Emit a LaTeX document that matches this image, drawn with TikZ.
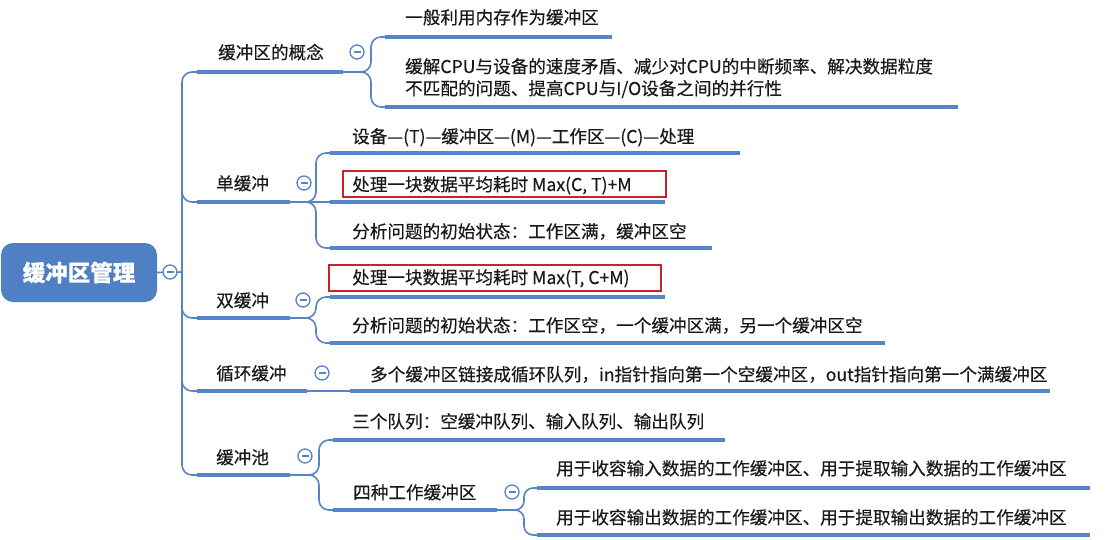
\documentclass[tikz,border=0pt]{standalone}
\usepackage{fontspec}
\setmainfont{Noto Sans CJK SC}[FakeBold=0.35]
\newfontfamily\rootfont{Noto Sans CJK SC}[FakeBold=0.5]
\usetikzlibrary{calc}
\definecolor{mblue}{RGB}{86,132,198}
\definecolor{topblue}{RGB}{87,133,199}
\definecolor{rootblue}{RGB}{80,128,196}
\definecolor{redc}{RGB}{196,36,42}
\definecolor{txtc}{RGB}{25,25,25}
\tikzset{
  ul/.style={draw=mblue, line width=4pt},
  topul/.style={draw=topblue, line width=4pt},
  conn/.style={draw=mblue, line width=1.6pt},
  txt/.style={anchor=base west, inner sep=0pt, font=\fontsize{17.6}{22}\selectfont, text=txtc, align=left},
  fold/.style={circle, draw=mblue, line width=1.3pt, fill=white, minimum size=14pt, inner sep=0pt,
    path picture={\draw[mblue, line width=1.3pt] ([xshift=-3.5pt]path picture bounding box.center) -- ([xshift=3.5pt]path picture bounding box.center);}},
  redbox/.style={draw=redc, line width=2pt, inner sep=0pt, minimum height=26pt},
  rootbox/.style={rounded corners=12pt, fill=rootblue, minimum width=156pt, minimum height=59pt, inner sep=0pt,
    text=white, font=\rootfont\fontsize{22.5}{26}\selectfont\bfseries}
}
\begin{document}
\begin{tikzpicture}[x=1pt, y=-1pt]
\useasboundingbox (0,0) rectangle (1107,540);
% top text first
\node[txt] (n11) at (405,24) {一般利用内存作为缓冲区};
% red boxes
\node[redbox, minimum width=323pt] (rb1) at (504.5,184) {};
\node[redbox, minimum width=332pt] (rb2) at (495,278) {};
% root
\node[rootbox] (root) at (79,272.5) {缓冲区管理};
\coordinate (tr) at (182,272);
% level-1 underline coordinates
\coordinate (a1) at (197,72);  \coordinate (b1) at (343,72);
\coordinate (a2) at (197,202); \coordinate (b2) at (290,202);
\coordinate (a3) at (197,318); \coordinate (b3) at (290,318);
\coordinate (a4) at (197,391); \coordinate (b4) at (307,391);
\coordinate (a5) at (197,475); \coordinate (b5) at (290,475);
\coordinate (t2) at (182,180); \coordinate (t3) at (182,296); \coordinate (t4) at (182,369);
% level-2 underline coordinates
\coordinate (c11) at (385,37);  \coordinate (d11) at (612,37);
\coordinate (c12) at (385,107); \coordinate (d12) at (958,107);
\coordinate (c21) at (330,153); \coordinate (d21) at (740,153);
\coordinate (c22) at (330,202); \coordinate (d22) at (665,202);
\coordinate (c23) at (330,248); \coordinate (d23) at (712,248);
\coordinate (c31) at (330,297); \coordinate (d31) at (665,297);
\coordinate (c32) at (330,343); \coordinate (d32) at (885,343);
\coordinate (c41) at (350,391); \coordinate (d41) at (1050,391);
\coordinate (c51) at (333,440); \coordinate (d51) at (725,440);
\coordinate (c52) at (333,510); \coordinate (d52) at (497,510);
\coordinate (e1) at (537,488); \coordinate (g1) at (1090,488);
\coordinate (e2) at (537,535); \coordinate (g2) at (1090,535);
% connectors
\draw[conn] (root.east) -- (tr);
\draw[conn, rounded corners=10pt] (a1) -| (tr) |- (a5);
\draw[conn, rounded corners=10pt] (t2) |- (a2);
\draw[conn, rounded corners=10pt] (t3) |- (a3);
\draw[conn, rounded corners=10pt] (t4) |- (a4);
\draw[conn, rounded corners=10pt] (b1) -| ([xshift=-14pt]c11) -- (d11);
\draw[conn, rounded corners=10pt] (b1) -| ([xshift=-14pt]c12) -- (c12);
\draw[conn, rounded corners=10pt] (b2) -| ([xshift=-14pt]c21) -- (c21);
\draw[conn] (b2) -- (c22);
\draw[conn, rounded corners=10pt] (b2) -| ([xshift=-14pt]c23) -- (c23);
\draw[conn, rounded corners=10pt] (b3) -| ([xshift=-14pt]c31) -- (c31);
\draw[conn, rounded corners=10pt] (b3) -| ([xshift=-14pt]c32) -- (c32);
\draw[conn] (b4) -- (c41);
\draw[conn, rounded corners=10pt] (b5) -| ([xshift=-14pt]c51) -- (c51);
\draw[conn, rounded corners=10pt] (b5) -| ([xshift=-14pt]c52) -- (c52);
\draw[conn, rounded corners=9pt] (d52) -| ([xshift=-13pt]e1) -- (e1);
\draw[conn, rounded corners=9pt] (d52) -| ([xshift=-13pt]e2) -- (e2);
% underlines
\path[topul] (c11) -- (d11);
\draw[ul] (a1) -- (b1);
\draw[ul] (a2) -- (b2);
\draw[ul] (a3) -- (b3);
\draw[ul] (a4) -- (b4);
\draw[ul] (a5) -- (b5);
\draw[ul] (c12) -- (d12);
\draw[ul] (c21) -- (d21);
\draw[ul] (c22) -- (d22);
\draw[ul] (c23) -- (d23);
\draw[ul] (c31) -- (d31);
\draw[ul] (c32) -- (d32);
\draw[ul] (c41) -- (d41);
\draw[ul] (c51) -- (d51);
\draw[ul] (c52) -- (d52);
\draw[ul] (e1) -- (g1);
\draw[ul] (e2) -- (g2);
% fold circles
\node[fold] (f0) at (170,272) {};
\node[fold] (f1) at (357,52) {};
\node[fold] (f2) at (304,183) {};
\node[fold] (f3) at (303,300) {};
\node[fold] (f4) at (322,373) {};
\node[fold] (f5) at (305,456) {};
\node[fold] (f52) at (512,492) {};
% level-1 texts
\node[txt] (n1) at (218,59) {缓冲区的概念};
\node[txt] (n2) at (216,190) {单缓冲};
\node[txt] (n3) at (216,307) {双缓冲};
\node[txt] (n4) at (216,380) {循环缓冲};
\node[txt] (n5) at (216,464) {缓冲池};
% level-2 texts
\node[txt] (n12) at (405,95) {缓解CPU与设备的速度矛盾、减少对CPU的中断频率、解决数据粒度\\不匹配的问题、提高CPU与I/O设备之间的并行性};
\node[txt] (n21) at (352,143) {设备—(T)—缓冲区—(M)—工作区—(C)—处理};
\node[txt] (n22) at (352,191) {处理一块数据平均耗时 Max(C, T)+M};
\node[txt] (n23) at (352,238) {分析问题的初始状态：工作区满，缓冲区空};
\node[txt] (n31) at (352,284) {处理一块数据平均耗时 Max(T, C+M)};
\node[txt] (n32) at (352,332) {分析问题的初始状态：工作区空，一个缓冲区满，另一个缓冲区空};
\node[txt] (n41) at (370,381) {多个缓冲区链接成循环队列，in指针指向第一个空缓冲区，out指针指向第一个满缓冲区};
\node[txt] (n51) at (352,428) {三个队列：空缓冲队列、输入队列、输出队列};
\node[txt] (n52) at (353,499) {四种工作缓冲区};
\node[txt] (n521) at (556,475) {用于收容输入数据的工作缓冲区、用于提取输入数据的工作缓冲区};
\node[txt] (n522) at (556,524) {用于收容输出数据的工作缓冲区、用于提取输出数据的工作缓冲区};
\end{tikzpicture}
\end{document}
